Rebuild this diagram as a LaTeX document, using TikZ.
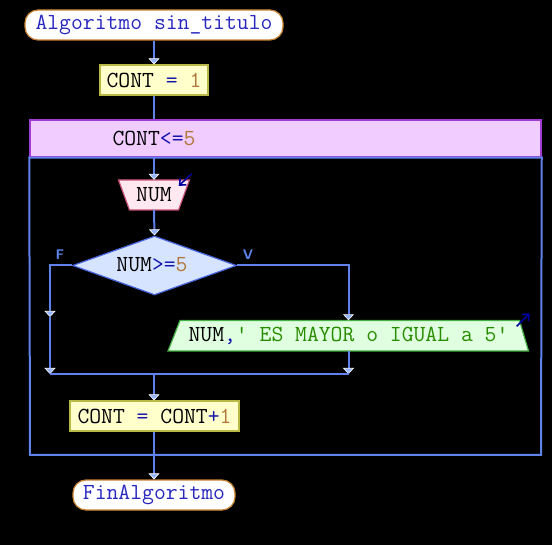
\documentclass[tikz,border=0pt]{standalone}
\usetikzlibrary{shapes.geometric,arrows.meta,calc}
\definecolor{ln}{RGB}{95,130,235}
\definecolor{ahead}{RGB}{150,180,255}
\definecolor{kw}{RGB}{40,40,190}
\definecolor{op}{RGB}{20,20,170}
\definecolor{numc}{RGB}{176,120,56}
\definecolor{strc}{RGB}{40,140,0}
\definecolor{termdraw}{RGB}{200,130,50}
\definecolor{asgfill}{RGB}{255,255,204}
\definecolor{asgdraw}{RGB}{185,185,70}
\definecolor{hdrfill}{RGB}{240,204,255}
\definecolor{hdrdraw}{RGB}{160,60,210}
\definecolor{infill}{RGB}{255,232,240}
\definecolor{indraw}{RGB}{200,80,120}
\definecolor{cndfill}{RGB}{215,228,255}
\definecolor{cnddraw}{RGB}{70,100,220}
\definecolor{outfill}{RGB}{224,255,224}
\definecolor{outdraw}{RGB}{70,175,70}
\definecolor{iconc}{RGB}{0,0,160}
\begin{document}
\begin{tikzpicture}[x=1pt,y=-1pt,
  code/.style={font=\ttfamily\fontsize{23}{27}\selectfont, text=black},
  conn/.style={draw=ln, line width=2pt},
  arr/.style={conn, -{Triangle[width=11pt,length=6pt,color=white,fill=ahead,line width=0.6pt]}},
  term/.style={code, rectangle, rounded corners=13pt, draw=termdraw, fill=white, line width=1.2pt, inner sep=0pt, minimum height=30pt},
  asg/.style={code, rectangle, draw=asgdraw, fill=asgfill, line width=1.2pt, inner sep=0pt, minimum height=30pt},
  txt/.style={code, inner sep=0pt},
  ghost/.style={inner sep=0pt, draw=none},
  lbl/.style={font=\sffamily\bfseries\fontsize{14}{14}\selectfont, text=ln, inner sep=0pt},
  icn/.style={draw=iconc, line width=1.6pt, -{Straight Barb[length=5pt,width=9pt,line width=1.6pt]}}
]
\fill[black] (0,0) rectangle (552,545);
\useasboundingbox (0,0) rectangle (552,545);

% start
\node[term, minimum width=258pt] (start) at (154,25) {\textcolor{kw}{Algoritmo sin\_titulo}};
% assignment 1
\node[asg, minimum width=108pt] (a1) at (154,80) {CONT \textcolor{op}{=} \textcolor{numc}{1}};
\draw[arr] (start.south) -- (a1.north);

% loop header and frame
\node[rectangle, draw=hdrdraw, fill=hdrfill, line width=1.5pt, minimum width=511pt, minimum height=37pt, inner sep=0pt] (hdr) at (285.5,138.5) {};
\node[txt] (hdrtxt) at (154,138.5) {CONT\textcolor{op}{<=}\textcolor{numc}{5}};
\draw[conn] (a1.south) -- (a1.south |- hdr.north);
\coordinate (lb) at (30,455);
\coordinate (rb) at (541,455);
\draw[conn] (hdr.south west) -- (lb) -- (rb) -- (hdr.south east) -- cycle;

% input
\fill[infill] (118.5,180) -- (189.5,180) -- (178.5,210) -- (129.5,210) -- cycle;
\draw[indraw, line width=1.2pt] (118.5,180) -- (189.5,180) -- (178.5,210) -- (129.5,210) -- cycle;
\node[ghost, code, minimum width=71pt, minimum height=30pt] (inp) at (154,195) {NUM};
\draw[arr] (inp.north |- hdr.south) -- (inp.north);
\draw[icn] ($(inp.north east)+(2,-6)$) -- ($(inp.north east)+(-11,6)$);

% condition
\node[code, diamond, aspect=2.78, draw=cnddraw, fill=cndfill, line width=1.2pt, minimum width=164pt, minimum height=59pt, inner sep=0pt] (cond) at (154.5,265.5) {};
\node[txt] (condtxt) at (152,264.5) {NUM\textcolor{op}{>=}\textcolor{numc}{5}};
\draw[arr] (inp.south) -- (cond.north);
\node[lbl] (lf) at (60,255) {F};
\node[lbl] (lv) at (248,255) {V};

% output
\fill[outfill] (180,320.5) -- (519.5,320.5) -- (528.5,351) -- (168,351) -- cycle;
\draw[outdraw, line width=1.2pt] (180,320.5) -- (519.5,320.5) -- (528.5,351) -- (168,351) -- cycle;
\node[ghost, code, minimum width=340pt, minimum height=30.5pt] (out) at (348.5,335.75) {NUM\textcolor{op}{,}\textcolor{strc}{\textquotesingle{} ES MAYOR o IGUAL a 5\textquotesingle}};
\draw[icn] ($(out.north east)+(-2,6)$) -- ($(out.north east)+(11,-7)$);

% branches
\coordinate (mr) at (348.5,374);
\coordinate (ml) at (50,374);
\coordinate (lmid) at (50,317);
\coordinate (mc) at (154,374);
\draw[arr] (cond.east) -| (out.north);
\draw[arr] (out.south) -- (mr);
\draw[arr] (cond.west) -| (lmid);
\draw[arr] (lmid) -- (ml);
\draw[conn] (ml) -- (mr);

% assignment 2
\node[asg, minimum width=169pt] (a2) at (154.5,416) {CONT \textcolor{op}{=} CONT\textcolor{op}{+}\textcolor{numc}{1}};
\draw[arr] (mc) -- (a2.north -| mc);

% end
\node[term, minimum width=162pt] (fin) at (154,495) {\textcolor{kw}{FinAlgoritmo}};
\draw[arr] (a2.south -| mc) -- (fin.north);
\end{tikzpicture}
\end{document}
